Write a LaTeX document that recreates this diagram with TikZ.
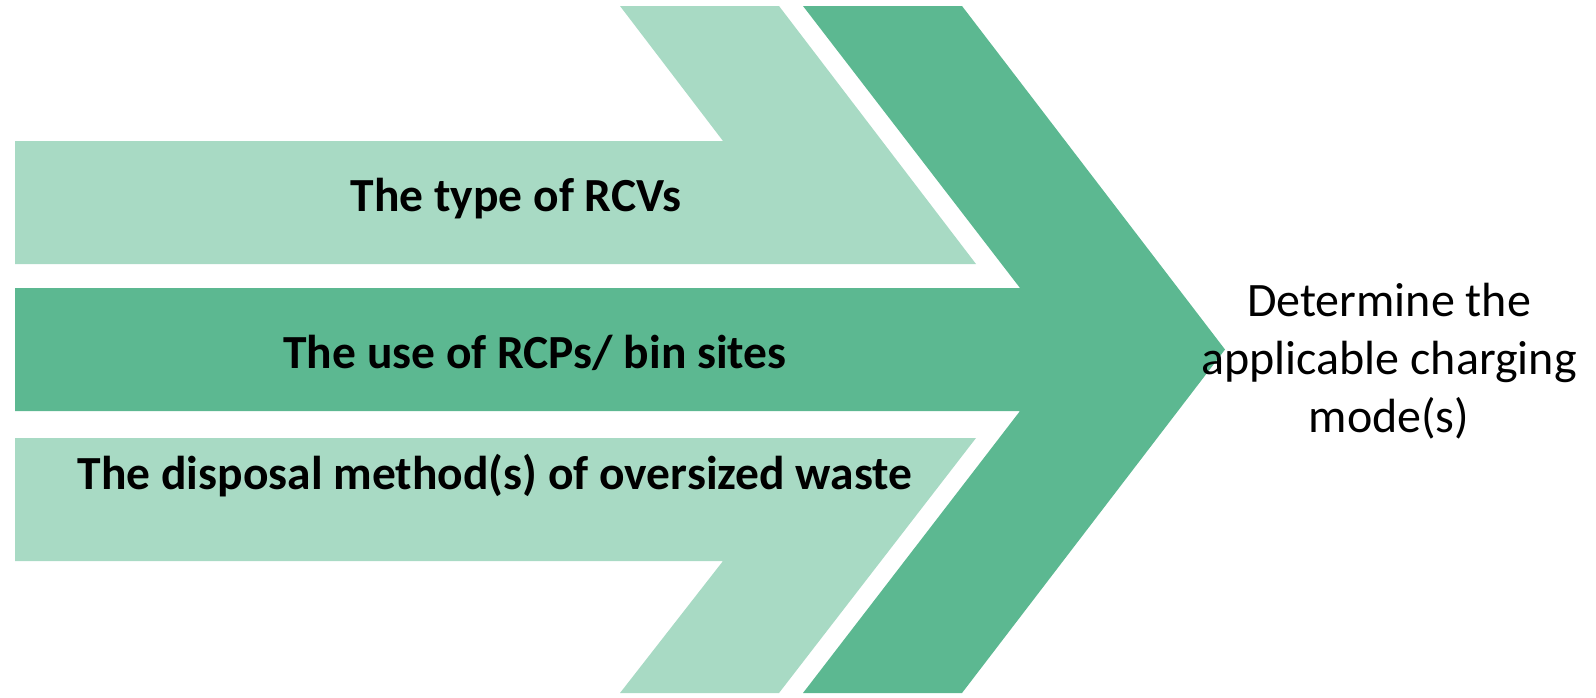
\documentclass[tikz,border=0pt]{standalone}
\usepackage{fontspec}
\setmainfont{Carlito}
\usetikzlibrary{positioning}
\definecolor{lightgreen}{HTML}{A8DAC4}
\definecolor{darkgreen}{HTML}{5CB891}
\tikzset{
  factor/.style={font=\bfseries\fontsize{47.5}{57}\selectfont, inner sep=0pt},
  result/.style={font=\fontsize{48}{58}\selectfont, align=center, inner sep=0pt}
}

\begin{document}
\begin{tikzpicture}[x=1pt, y=-1pt]
			\useasboundingbox (0,0) rectangle (1596,697);
			% upper factor arrow
			\fill[lightgreen] (15,141) -- (723,141) -- (620,6) -- (779,6) -- (976,264) -- (15,264) -- cycle;
			% lower factor arrow
			\fill[lightgreen] (15,438) -- (976,438) -- (779,693) -- (620,693) -- (723,561) -- (15,561) -- cycle;
			% middle band with chevron
			\fill[darkgreen] (15,288) -- (1020,288) -- (803,6) -- (962,6) -- (1225,349.5) -- (962,693) -- (803,693) -- (1020,411) -- (15,411) -- cycle;
			
			\node[factor] (type) at (516,199) {The type of RCVs};
			\node[factor] (use) at (535,353) {The use of RCPs/ bin sites};
			\node[factor] (disposal) at (495,476) {The disposal method(s) of oversized waste};
			
			\node[result] (mode) at (1389,361) {Determine the\\applicable charging\\mode(s)};
		\end{tikzpicture}
\end{document}
